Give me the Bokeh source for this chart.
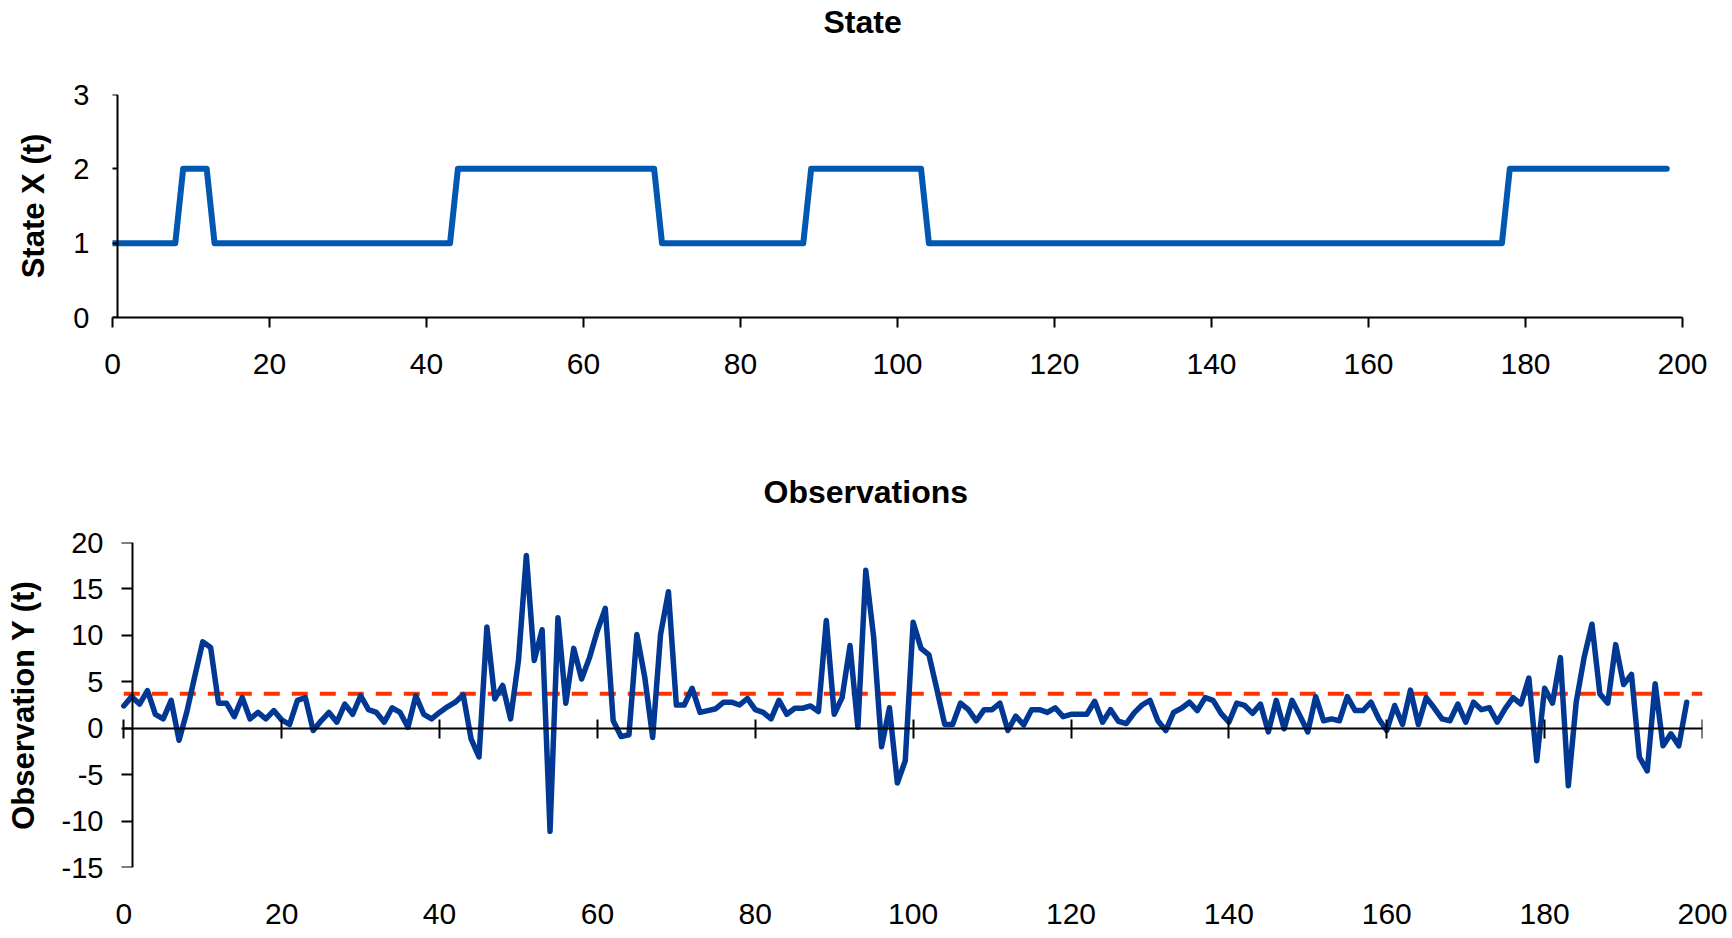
from bokeh.plotting import figure
from bokeh.models import Range1d, LinearAxis, FixedTicker
from bokeh.layouts import column
from bokeh.embed import file_html
from bokeh.resources import INLINE

FONT = "Liberation Sans"

# ---------------- data ----------------
time_steps = list(range(199))

state_x = [
    1, 1, 1, 1, 1, 1, 1, 1, 1, 2, 2, 2, 2, 1, 1, 1, 1, 1, 1, 1,
    1, 1, 1, 1, 1, 1, 1, 1, 1, 1, 1, 1, 1, 1, 1, 1, 1, 1, 1, 1,
    1, 1, 1, 1, 2, 2, 2, 2, 2, 2, 2, 2, 2, 2, 2, 2, 2, 2, 2, 2,
    2, 2, 2, 2, 2, 2, 2, 2, 2, 2, 1, 1, 1, 1, 1, 1, 1, 1, 1, 1,
    1, 1, 1, 1, 1, 1, 1, 1, 1, 2, 2, 2, 2, 2, 2, 2, 2, 2, 2, 2,
    2, 2, 2, 2, 1, 1, 1, 1, 1, 1, 1, 1, 1, 1, 1, 1, 1, 1, 1, 1,
    1, 1, 1, 1, 1, 1, 1, 1, 1, 1, 1, 1, 1, 1, 1, 1, 1, 1, 1, 1,
    1, 1, 1, 1, 1, 1, 1, 1, 1, 1, 1, 1, 1, 1, 1, 1, 1, 1, 1, 1,
    1, 1, 1, 1, 1, 1, 1, 1, 1, 1, 1, 1, 1, 1, 1, 1, 1, 1, 2, 2,
    2, 2, 2, 2, 2, 2, 2, 2, 2, 2, 2, 2, 2, 2, 2, 2, 2, 2, 2,
]

observation_y = [
    2.4, 3.4, 2.6, 4.05, 1.5, 1.0, 3.0, -1.3, 1.8, 5.6,
    9.3, 8.7, 2.7, 2.7, 1.25, 3.3, 1.0, 1.7, 1.0, 1.9,
    0.9, 0.4, 3.0, 3.3, -0.25, 0.8, 1.7, 0.65, 2.6, 1.5,
    3.5, 2.0, 1.7, 0.65, 2.2, 1.7, 0.1, 3.5, 1.5, 1.0,
    1.7, 2.3, 2.8, 3.6, -1.15, -3.1, 10.9, 3.15, 4.6, 1.0,
    7.3, 18.6, 7.3, 10.6, -11.1, 11.9, 2.7, 8.6, 5.3, 7.6,
    10.5, 12.9, 0.8, -0.9, -0.7, 10.1, 5.5, -1.0, 10.1, 14.7,
    2.5, 2.5, 4.3, 1.7, 1.9, 2.1, 2.8, 2.8, 2.5, 3.2,
    2.0, 1.7, 1.0, 3.0, 1.5, 2.15, 2.15, 2.4, 1.8, 11.6,
    1.5, 3.3, 8.9, 0.1, 17.0, 9.8, -2.0, 2.2, -5.9, -3.5,
    11.4, 8.6, 7.9, 4.2, 0.4, 0.4, 2.7, 2.0, 0.8, 2.0,
    2.0, 2.7, -0.25, 1.3, 0.36, 2.0, 2.0, 1.7, 2.2, 1.25,
    1.5, 1.5, 1.5, 2.9, 0.65, 2.0, 0.75, 0.5, 1.65, 2.5,
    3.0, 0.8, -0.25, 1.7, 2.15, 2.8, 1.9, 3.3, 3.0, 1.6,
    0.65, 2.7, 2.45, 1.6, 2.6, -0.4, 3.0, -0.07, 3.0, 1.35,
    -0.4, 3.4, 0.8, 1.0, 0.8, 3.4, 1.9, 1.9, 2.8, 1.0,
    -0.25, 2.45, 0.4, 4.1, 0.4, 3.3, 2.2, 1.0, 0.8, 2.6,
    0.65, 2.8, 2.0, 2.2, 0.65, 2.1, 3.3, 2.6, 5.4, -3.5,
    4.3, 2.7, 7.6, -6.2, 2.8, 7.6, 11.2, 3.7, 2.7, 9.0,
    4.7, 5.8, -3.1, -4.6, 4.8, -1.9, -0.6, -1.9, 2.8,
]

# horizontal reference level drawn dashed across the observation chart
threshold_x = [0, 200]
threshold_y = [3.7, 3.7]

x_ticks = [0, 20, 40, 60, 80, 100, 120, 140, 160, 180, 200]
state_ticks = [0, 1, 2, 3]
obs_ticks = [-15, -10, -5, 0, 5, 10, 15, 20]

STATE_COLOR = "#0058B0"
OBS_COLOR = "#003894"
THRESH_COLOR = "#FF3300"


def style_fig(p, title_offset):
    p.outline_line_color = None
    p.background_fill_color = "white"
    p.border_fill_color = "white"
    p.grid.grid_line_color = None
    p.grid.visible = False
    p.title.text_font = FONT
    p.title.text_font_size = "32px"
    p.title.text_font_style = "bold"
    p.title.text_color = "black"
    p.title.align = "left"
    p.title.offset = title_offset
    p.title.standoff = 2


def style_axis(ax, label_size):
    ax.axis_line_color = "black"
    ax.axis_line_width = 2
    ax.major_tick_line_color = "black"
    ax.major_tick_line_width = 2
    ax.minor_tick_line_color = None
    ax.minor_tick_in = 0
    ax.minor_tick_out = 0
    ax.major_tick_in = 0
    ax.major_label_text_font = FONT
    ax.major_label_text_font_size = label_size
    ax.major_label_text_color = "black"
    ax.axis_label_text_font = FONT
    ax.axis_label_text_font_size = "31px"
    ax.axis_label_text_font_style = "bold"
    ax.axis_label_text_color = "black"


def line_only_axis(ticks, loc, tick_in, tick_out, bounds="auto"):
    ax = LinearAxis(ticker=FixedTicker(ticks=ticks), fixed_location=loc, bounds=bounds)
    style_axis(ax, "0px")
    ax.major_tick_in = tick_in
    ax.major_tick_out = tick_out
    ax.major_label_overrides = {t: "" for t in ticks}
    return ax


def label_only_axis(ticks, label_size, standoff, tick_out=0):
    ax = LinearAxis(ticker=FixedTicker(ticks=ticks))
    style_axis(ax, label_size)
    ax.axis_line_color = None
    ax.major_tick_line_color = None
    ax.major_tick_out = tick_out
    ax.major_label_standoff = standoff
    ax.major_label_overrides = {t: str(t) for t in ticks}
    return ax


def spacer(ticks, size):
    # invisible axis that only reserves vertical room between title and frame
    sp = LinearAxis(ticker=FixedTicker(ticks=ticks))
    style_axis(sp, "0px")
    sp.axis_line_color = None
    sp.major_tick_line_color = None
    sp.major_tick_out = size
    sp.major_label_standoff = 0
    sp.major_label_overrides = {t: "" for t in ticks}
    return sp


# ---------------- top: State ----------------
top = figure(output_backend="svg", toolbar_location=None, title="State",
             width=1732, height=392,
             x_range=Range1d(0, 202.55), y_range=Range1d(0, 3),
             x_axis_location=None, y_axis_location=None,
             min_border_left=112, min_border_right=30,
             min_border_top=94, min_border_bottom=75)
style_fig(top, 711)
top.add_layout(spacer(x_ticks, 54), "above")

top.line(time_steps, state_x, line_color=STATE_COLOR, line_width=6,
         line_join="round", line_cap="round")

top_x = LinearAxis(ticker=FixedTicker(ticks=x_ticks), bounds=(0, 200))
style_axis(top_x, "30px")
top_x.major_tick_out = 10
top_x.major_label_standoff = 26
top.add_layout(top_x, "below")

top_y_lab = label_only_axis(state_ticks, "29px", 23)
top_y_lab.axis_label = "State X (t)"
top_y_lab.axis_label_standoff = 19
top.add_layout(top_y_lab, "left")
top.add_layout(line_only_axis(state_ticks, 0.6, 0, 9), "left")

# ---------------- bottom: Observations ----------------
bot = figure(output_backend="svg", toolbar_location=None, title="Observations",
             width=1732, height=545,
             x_range=Range1d(-1.43, 200), y_range=Range1d(-15, 20),
             x_axis_location=None, y_axis_location=None,
             min_border_left=112, min_border_right=30,
             min_border_top=150, min_border_bottom=70)
style_fig(bot, 651)
bot.add_layout(spacer(x_ticks, 32), "above")

bot.line(threshold_x, threshold_y, line_color=THRESH_COLOR, line_width=4,
         line_dash="16 12")
bot.line(time_steps, observation_y, line_color=OBS_COLOR, line_width=5.5,
         line_join="round", line_cap="round")

bot.add_layout(line_only_axis(x_ticks, 0, 9, 10, bounds=(0, 200)), "below")
bot.add_layout(label_only_axis(x_ticks, "30px", 26, tick_out=10), "below")

bot_y_lab = label_only_axis(obs_ticks, "29px", 9)
bot_y_lab.axis_label = "Observation Y (t)"
bot_y_lab.axis_label_standoff = 18
bot.add_layout(bot_y_lab, "left")
bot.add_layout(line_only_axis(obs_ticks, 1.05, 0, 11), "left")

layout = column(top, bot, spacing=0)

open("out.html", "w").write(file_html(layout, INLINE))
